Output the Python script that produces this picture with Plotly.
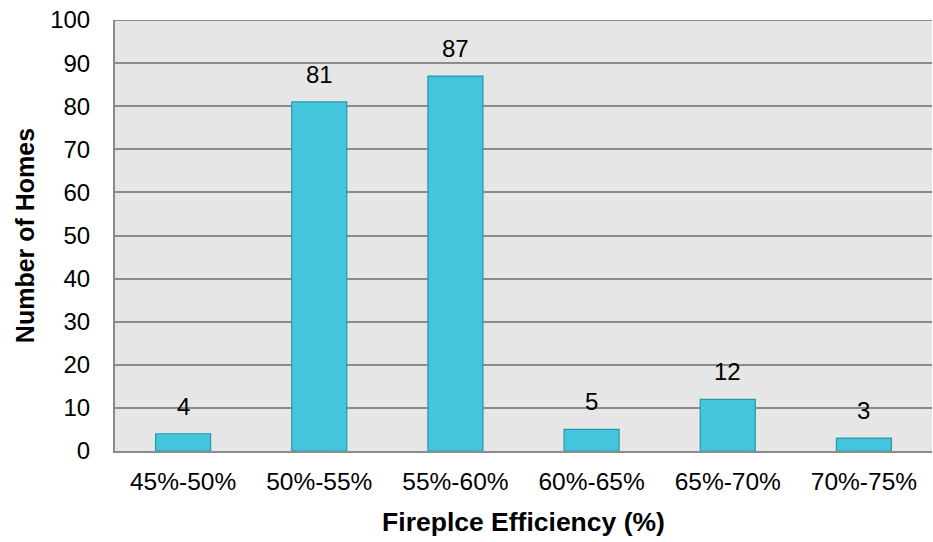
import plotly.graph_objects as go

categories = ["45%-50%", "50%-55%", "55%-60%", "60%-65%", "65%-70%", "70%-75%"]
homes = [4, 81, 87, 5, 12, 3]
y_ticks = [0, 10, 20, 30, 40, 50, 60, 70, 80, 90, 100]

FONT = "Liberation Sans, Arial, sans-serif"

fig = go.Figure()
fig.add_trace(go.Bar(
    x=categories, y=homes,
    marker=dict(color="#42c5dd", line=dict(color="#2a97aa", width=1.2)),
    width=0.404,
))

for c, v in zip(categories, homes):
    fig.add_annotation(x=c, y=v, text=str(v), showarrow=False,
                       yanchor="bottom", yshift=12,
                       font=dict(family=FONT, size=24, color="#000"))

fig.update_layout(
    width=933, height=542,
    margin=dict(l=115, r=1, t=20, b=91),
    paper_bgcolor="white",
    plot_bgcolor="#e6e6e6",
    showlegend=False,
    font=dict(family=FONT, size=24, color="#000"),
    xaxis=dict(
        title=dict(text="<b>Fireplce Efficiency (%)</b>", font=dict(size=26.5), standoff=18),
        showgrid=False, showline=True, linecolor="#8c8c8c", linewidth=2,
        ticks="", tickfont=dict(size=24.5), ticklabelstandoff=8,
        automargin=False,
    ),
    yaxis=dict(
        title=dict(text="<b>Number of Homes</b>", font=dict(size=25), standoff=8),
        range=[0, 100], tickvals=y_ticks,
        showgrid=True, gridcolor="#8c8c8c", gridwidth=2,
        showline=True, linecolor="#8c8c8c", linewidth=2,
        zeroline=False, ticks="", tickfont=dict(size=24), ticklabelstandoff=18,
        automargin=False,
    ),
)
fig.add_shape(type="line", xref="paper", yref="y", x0=0, x1=1, y0=100, y1=100,
              line=dict(color="#8c8c8c", width=2), layer="below")

fig.write_html(
    "out.html",
    config={"displayModeBar": False},
    post_script="document.body.style.margin='0';document.body.style.overflow='hidden';",
)
